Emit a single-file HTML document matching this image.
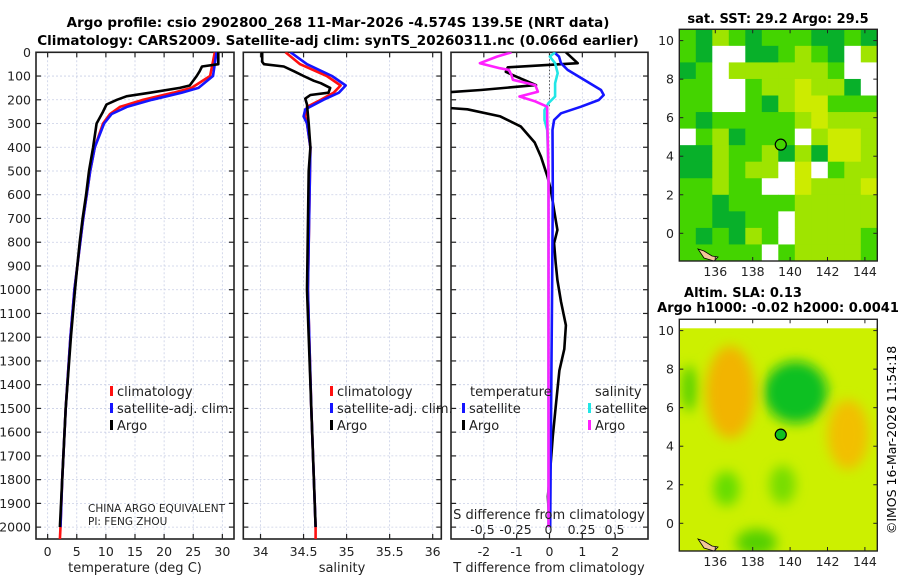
<!DOCTYPE html>
<html><head><meta charset="utf-8">
<style>
html,body{margin:0;padding:0;background:#fff;}
svg{display:block;font-family:"DejaVu Sans","Liberation Sans",sans-serif;}
</style></head>
<body>
<svg id="fig" width="900" height="580" viewBox="0 0 900 580" xmlns="http://www.w3.org/2000/svg">
<defs>
<clipPath id="c1"><rect x="36" y="52.3" width="198" height="486.7"/></clipPath>
<clipPath id="c2"><rect x="243.3" y="52.3" width="198" height="486.7"/></clipPath>
<clipPath id="c3"><rect x="451" y="52.3" width="197" height="486.7"/></clipPath>
<clipPath id="cm1"><rect x="679.3" y="29.3" width="198" height="231.7"/></clipPath>
<clipPath id="cm2"><rect x="679.3" y="319.3" width="198" height="231.7"/></clipPath>
<filter id="blur" x="-50%" y="-50%" width="200%" height="200%"><feGaussianBlur stdDeviation="6"/></filter>
</defs>
<text x="338" y="27" font-size="13.5" font-weight="bold" text-anchor="middle">Argo profile: csio 2902800_268 11-Mar-2026 -4.574S 139.5E (NRT data)</text>
<text x="338" y="45" font-size="13.5" font-weight="bold" text-anchor="middle">Climatology: CARS2009. Satellite-adj clim: synTS_20260311.nc (0.066d earlier)</text>
<g id="panels"></g>
<text x="778" y="23" font-size="13" font-weight="bold" text-anchor="middle">sat. SST: 29.2 Argo: 29.5</text>
<text x="743" y="297" font-size="13" font-weight="bold" text-anchor="middle">Altim. SLA: 0.13</text>
<text x="778" y="312" font-size="13" font-weight="bold" text-anchor="middle">Argo h1000: -0.02 h2000: 0.0041</text>
<text transform="translate(896,440) rotate(-90)" font-size="12.5" text-anchor="middle">©IMOS 16-Mar-2026 11:54:18</text>
</svg>
<script>
// ---------- data ----------
const depthTicks = [0,100,200,300,400,500,600,700,800,900,1000,1100,1200,1300,1400,1500,1600,1700,1800,1900,2000];
const tempTicks = [0,5,10,15,20,25,30];
const salTicks = [34,34.5,35,35.5,36];
const salTickLabels = ["34","34.5","35","35.5","36"];
const tdiffTicks = [-2,-1,0,1,2];
const sdiffTicks = [-0.5,-0.25,0,0.25,0.5];
const sdiffTickLabels = ["-0.5","-0.25","0","0.25","0.5"];

const tArgoDepth = [0,50,60,80,100,140,150,170,185,200,220,250,300,400,500,600,700,800,900,1000,1200,1500,1800,2000];
const tArgo      = [29.3,29.3,26.5,26.1,25.6,24.4,22.7,17.6,13.6,11.9,10.1,9.5,8.4,7.8,7.1,6.6,6.0,5.5,5.1,4.7,4.0,3.1,2.5,2.1];
const tClimDepth = [0,100,150,170,200,230,260,300,400,500,700,1000,1200,1500,1800,2000,2050];
const tClim      = [28.7,27.9,24.7,21.6,16.4,12.4,10.7,9.5,8.1,7.3,6.1,4.6,3.9,3.1,2.5,2.2,2.1];
const tSatDepth  = [0,100,150,170,200,230,260,300,400,500,700,1000,1200,1500,1800,2000];
const tSat       = [29.0,28.4,25.9,23.0,17.9,13.6,11.0,9.7,8.1,7.3,6.1,4.6,3.9,3.1,2.5,2.2];

const sArgoDepth = [0,40,50,60,80,100,120,130,150,170,180,195,220,300,400,500,1000,1500,2000];
const sArgo      = [34.02,34.02,34.04,34.27,34.39,34.5,34.62,34.7,34.81,34.79,34.58,34.52,34.54,34.56,34.58,34.56,34.54,34.59,34.64];
const sClimDepth = [0,50,100,140,170,200,230,270,300,400,1000,1500,2000,2050];
const sClim      = [34.29,34.46,34.77,34.93,34.85,34.70,34.54,34.52,34.54,34.58,34.55,34.59,34.64,34.64];
const sSatDepth  = [0,50,100,140,170,200,240,270,300,400,1000,1500,2000];
const sSat       = [34.35,34.54,34.83,34.99,34.91,34.73,34.52,34.50,34.54,34.58,34.55,34.59,34.64];

const dtArgoDepth = [0,46,63,82,96,138,159,173,229,240,270,313,380,440,524,580,706,748,804,888,959,1050,1150,1250,1340,1476,1618,1760,1871,2000];
const dtArgo      = [0.5,0.86,-1.27,-1.33,-1.12,-0.41,-2.09,-3.6,-3.6,-2.5,-1.5,-0.87,-0.45,-0.26,-0.06,0.04,0.19,0.24,0.14,0.19,0.24,0.35,0.5,0.45,0.3,0.2,0.1,0.02,-0.05,0.0];
const dtSatDepth  = [0,18,46,74,116,159,180,201,229,257,285,327,600,1000,1500,2000];
const dtSat       = [0.14,0.29,0.35,0.55,1.05,1.57,1.65,1.5,0.96,0.35,0.14,0.09,0.1,0.08,0.05,0.02];
const dsSatDepth  = [0,18,46,88,130,186,214,243,285,327,500,1000,2000];
const dsSat       = [0.05,0.01,0.05,0.07,0.05,0.05,0.0,-0.03,-0.03,-0.01,0.0,0.0,0.0];
const dsArgoDepth = [0,18,46,67,74,96,116,138,166,186,207,229,271,500,1000,2000];
const dsArgo      = [-0.28,-0.39,-0.52,-0.37,-0.3,-0.28,-0.27,-0.1,-0.08,-0.22,-0.1,-0.01,-0.01,0.0,0.0,0.0];

const lonTicks = [136,138,140,142,144];
const latTicks = [0,2,4,6,8,10];
const argoLon = 139.5, argoLat = 4.6;
const sstGrid = [
 [2,1,3,2,1,2,2,2,1,1,2,1],
 [2,1,0,0,1,1,2,3,2,1,0,3],
 [1,2,0,3,3,3,3,3,3,2,0,0],
 [2,2,0,0,2,3,3,4,3,3,1,0],
 [2,2,0,0,2,1,3,4,4,2,2,2],
 [2,1,2,2,2,2,2,3,4,3,3,3],
 [0,2,3,1,2,2,2,0,3,4,4,3],
 [1,1,3,2,2,3,1,3,1,4,4,3],
 [1,1,3,2,3,3,0,4,0,2,3,3],
 [2,2,3,2,2,0,0,4,3,3,3,4],
 [2,2,1,2,2,2,2,3,3,3,3,3],
 [2,2,1,1,2,2,0,3,3,3,3,3],
 [2,1,2,1,3,2,0,3,3,3,3,2],
 [2,2,2,2,2,0,2,3,3,3,3,2]
];
const sstColors = ["#ffffff","#08b02a","#44d400","#9fe400","#cdeb00"];
const slaLon = [136.8,140.3,143.1,136.6,139.6,138.2,134.6];
const slaLat = [6.8,6.8,4.6,1.8,2.0,-1.0,7.0];
const slaRx  = [1.3,1.7,1.1,0.7,0.7,1.1,0.4];
const slaRy  = [2.4,1.6,1.8,0.9,1.0,0.7,1.2];
const slaCol = ["#f2b400","#10c020","#f2bf00","#66dd00","#77dd00","#55d000","#55d000"];

// ---------- helpers ----------
const NS = "http://www.w3.org/2000/svg";
const root = document.getElementById('panels');
function mk(tag, attrs, parent){ const e=document.createElementNS(NS,tag); for(const k in attrs) e.setAttribute(k,attrs[k]); (parent||root).appendChild(e); return e; }
const Y0=52.3, Y1=539;
const yD = d => Y0 + d*(Y1-Y0)/2050;
const x1 = t => 36 + (t+2)/34*198;
const x2 = s => 243.3 + (s-33.8)/2.3*198;
const x3 = t => 451 + (t+3)/6*197;
const x3s = s => 548.5 + 132*s;

function gridAndFrame(x0,w,xt,xf,clip,labels,yLabels){
  const g = mk('g',{'clip-path':'url(#'+clip+')'});
  
  
  depthTicks.forEach(d=>{ if(d>0) mk('line',{x1:x0,x2:x0+w,y1:yD(d),y2:yD(d),stroke:'#c9cfe6','stroke-width':0.8,'stroke-dasharray':'2,2'},g); });
  xt.forEach(v=>{ mk('line',{x1:xf(v),x2:xf(v),y1:Y0,y2:Y1,stroke:'#c9cfe6','stroke-width':0.8,'stroke-dasharray':'2,2'},g); });
  const fr = mk('rect',{x:x0,y:Y0,width:w,height:Y1-Y0,fill:'none',stroke:'#222','stroke-width':1.6});
  
  
  depthTicks.forEach(d=>{
    mk('line',{x1:x0,x2:x0+5,y1:yD(d),y2:yD(d),stroke:'#222','stroke-width':1.2});
    mk('line',{x1:x0+w-5,x2:x0+w,y1:yD(d),y2:yD(d),stroke:'#222','stroke-width':1.2});
    if(yLabels){ const t=mk('text',{x:31,y:yD(d)+4.5,'font-size':12.5,'text-anchor':'end',fill:'#222'}); t.textContent=d;
      
       }
  });
  xt.forEach((v,i)=>{
    mk('line',{x1:xf(v),x2:xf(v),y1:Y1,y2:Y1-5,stroke:'#222','stroke-width':1.2});
    mk('line',{x1:xf(v),x2:xf(v),y1:Y0,y2:Y0+5,stroke:'#222','stroke-width':1.2});
    const t=mk('text',{x:xf(v),y:556,'font-size':12.5,'text-anchor':'middle',fill:'#222'}); t.textContent=labels?labels[i]:v;
    
    
  });
}
function line(ds,vs,xf,col,clip,name,w){
  const p = ds.map((d,i)=>(i?'L':'M')+xf(vs[i]).toFixed(1)+','+yD(d).toFixed(1)).join('');
  const e = mk('path',{d:p,fill:'none',stroke:col,'stroke-width':w||2.6,'stroke-linejoin':'round','clip-path':'url(#'+clip+')'});
  
  
}
function txt(x,y,s,size,name,anchor){
  const t=mk('text',{x:x,y:y,'font-size':size,'text-anchor':anchor||'start',fill:'#222'}); t.textContent=s;
  
  
  return t;
}
function legendEntry(x,y,col,label){
  const r=mk('rect',{x:x,y:y-10,width:3,height:10,fill:col});
  
  
  txt(x+7,y,label,13,'legend-entry');
}

// ---------- panel 1 ----------
gridAndFrame(36,198,tempTicks,x1,'c1',null,true);
line(tClimDepth,tClim,x1,'#ff1010','c1','climatology-temperature-line');
line(tSatDepth,tSat,x1,'#1515ff','c1','satellite-temperature-line');
line(tArgoDepth,tArgo,x1,'#000','c1','argo-temperature-line');
txt(135,572,'temperature (deg C)',13,'temperature-axis-title','middle');
legendEntry(110,396,'#ff1010','climatology');
legendEntry(110,413,'#1515ff','satellite-adj. clim.');
legendEntry(110,430,'#000','Argo');
txt(88,512,'CHINA ARGO EQUIVALENT',10.5,'agency-note');
txt(88,525,'PI: FENG ZHOU',10.5,'pi-note');

// ---------- panel 2 ----------
gridAndFrame(243.3,198,salTicks,x2,'c2',salTickLabels,false);
line(sClimDepth,sClim,x2,'#ff1010','c2','climatology-salinity-line');
line(sSatDepth,sSat,x2,'#1515ff','c2','satellite-salinity-line');
line(sArgoDepth,sArgo,x2,'#000','c2','argo-salinity-line');
txt(342,572,'salinity',13,'salinity-axis-title','middle');
legendEntry(330,396,'#ff1010','climatology');
legendEntry(330,413,'#1515ff','satellite-adj. clim.');
legendEntry(330,430,'#000','Argo');

// ---------- panel 3 ----------
gridAndFrame(451,197,tdiffTicks,x3,'c3',null,false);
mk('line',{x1:x3(0),x2:x3(0),y1:Y0,y2:yD(230),stroke:'#555','stroke-width':1,'stroke-dasharray':'1.5,2','clip-path':'url(#c3)'});
line(dtArgoDepth,dtArgo,x3,'#000','c3','argo-temperature-difference-line');
line(dtSatDepth,dtSat,x3,'#1515ff','c3','satellite-temperature-difference-line');
line(dsSatDepth,dsSat,x3s,'#22e6e6','c3','satellite-salinity-difference-line');
line(dsArgoDepth,dsArgo,x3s,'#ff20ff','c3','argo-salinity-difference-line');
txt(470,396,'temperature',13,'temperature-legend-header');
legendEntry(462,413,'#1515ff','satellite');
legendEntry(462,430,'#000','Argo');
txt(595,396,'salinity',13,'salinity-legend-header');
legendEntry(588,413,'#22e6e6','satellite');
legendEntry(588,430,'#ff20ff','Argo');
txt(549,519,'S difference from climatology',13,'s-difference-axis-title','middle');
sdiffTicks.forEach((v,i)=>{
  txt(x3s(v),534,sdiffTickLabels[i],12.5,'s-difference-tick-label','middle');
});
txt(549,572,'T difference from climatology',13,'t-difference-axis-title','middle');

// ---------- maps ----------
const MX0=679.3, MW=198;
const mx = lon => 715.3 + (lon-136)*18.7;
function mapAxes(top,h,lat0y,name){
  const my = lat => lat0y - lat*19.27;
  const fr=mk('rect',{x:MX0,y:top,width:MW,height:h,fill:'none',stroke:'#222','stroke-width':1.4});
  
  
  lonTicks.forEach(l=>{
    mk('line',{x1:mx(l),x2:mx(l),y1:top+h,y2:top+h-4,stroke:'#222'});
    mk('line',{x1:mx(l),x2:mx(l),y1:top,y2:top+4,stroke:'#222'});
    txt(mx(l),top+h+15,String(l),12.5,'longitude-tick-label','middle');
  });
  latTicks.forEach(l=>{
    mk('line',{x1:MX0,x2:MX0+4,y1:my(l),y2:my(l),stroke:'#222'});
    mk('line',{x1:MX0+MW-4,x2:MX0+MW,y1:my(l),y2:my(l),stroke:'#222'});
    txt(674,my(l)+4.5,String(l),12.5,'latitude-tick-label','end');
  });
}
(function(){
  const top=29.3,h=231.7,lat0y=233.3;
  const my = lat => lat0y - lat*19.27;
  const g=mk('g',{'clip-path':'url(#cm1)'});
  
  
  const rows=sstGrid.length, cols=sstGrid[0].length;
  const cw=MW/cols, ch=h/rows;
  sstGrid.forEach((row,r)=>row.forEach((v,c)=>{
    const cell=mk('rect',{x:MX0+c*cw,y:top+r*ch,width:cw+0.5,height:ch+0.5,fill:sstColors[v]},g);
    
    
  }));
  mk('path',{d:'M698,249 l6,2 l8,5 l6,1 l-4,4 l-10,-3 z',fill:'#f3c79a',stroke:'#000','stroke-width':0.8},g);
  const m=mk('circle',{cx:mx(argoLon),cy:my(argoLat),r:5.5,fill:'#44d400',stroke:'#000','stroke-width':1.2});
  
  
  mapAxes(top,h,lat0y,'sst-map');
})();
(function(){
  const top=319.3,h=231.7,lat0y=523.3;
  const my = lat => lat0y - lat*19.27;
  const g=mk('g',{'clip-path':'url(#cm2)'});
  
  
  mk('rect',{x:MX0,y:top,width:MW,height:h,fill:'#ccf000'},g);
  const fg=mk('g',{filter:'url(#blur)'},g);
  slaLon.forEach((lon,i)=>{
    const e=mk('ellipse',{cx:mx(lon),cy:my(slaLat[i]),rx:slaRx[i]*18.7,ry:slaRy[i]*19.27,fill:slaCol[i]},fg);
    
    
  });
  mk('rect',{x:MX0,y:top,width:MW,height:9,fill:'#fff'},g);
  mk('path',{d:'M698,539 l6,2 l8,5 l6,1 l-4,4 l-10,-3 z',fill:'#f3c79a',stroke:'#000','stroke-width':0.8},g);
  const m=mk('circle',{cx:mx(argoLon),cy:my(argoLat),r:5.5,fill:'#10c020',stroke:'#000','stroke-width':1.2});
  
  
  mapAxes(top,h,lat0y,'sla-map');
})();
</script>
</body></html>
